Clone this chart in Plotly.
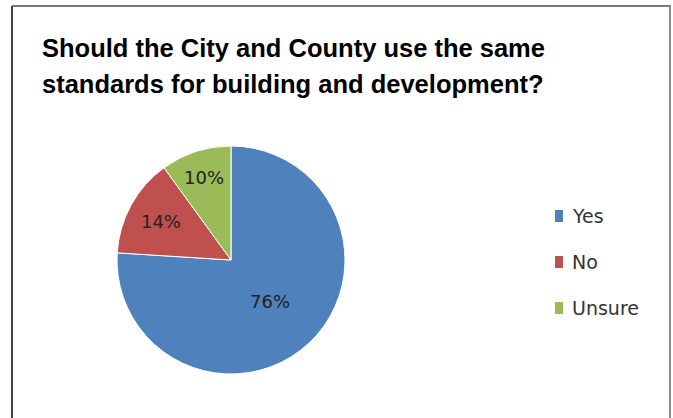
import plotly.graph_objects as go

labels = ["Yes", "No", "Unsure"]
values = [76, 14, 10]
colors = ["#4F81BD", "#C0504D", "#9BBB59"]
title_lines = ["Should the City and County use the same",
               "standards for building and development?"]

W, H = 673, 418

def px(x):
    return x / W

def py(y):
    return 1 - y / H

cx, cy, r = 231, 260, 114

fig = go.Figure()
fig.add_trace(go.Pie(
    labels=labels,
    values=values,
    marker=dict(colors=colors, line=dict(color="white", width=1)),
    sort=False,
    direction="clockwise",
    rotation=0,
    texttemplate="%{value}%",
    textposition="inside",
    insidetextorientation="horizontal",
    textfont=dict(family="DejaVu Sans", size=18, color="#222222"),
    domain=dict(x=[px(cx - r), px(cx + r)], y=[py(cy + r), py(cy - r)]),
    showlegend=False,
    hoverinfo="label+percent",
))

annotations = []
for i, line in enumerate(title_lines):
    annotations.append(dict(
        text=line, x=px(40), y=py(48 + 36 * i), xref="paper", yref="paper",
        xanchor="left", yanchor="middle", showarrow=False,
        font=dict(family="Liberation Sans", size=25.5, color="#000000", weight="bold"),
    ))

shapes = []
for i, (lab, col) in enumerate(zip(labels, colors)):
    yc = 216 + 46 * i
    shapes.append(dict(type="rect", xref="paper", yref="paper",
                       x0=px(555), x1=px(563), y0=py(yc + 6), y1=py(yc - 6),
                       fillcolor=col, line=dict(width=0)))
    annotations.append(dict(
        text=lab, x=px(570), y=py(yc), xref="paper", yref="paper",
        xanchor="left", yanchor="middle", showarrow=False,
        font=dict(family="DejaVu Sans", size=19, color="#333333"),
    ))

# chart border
shapes.append(dict(type="line", xref="paper", yref="paper",
                   x0=px(12), x1=px(671), y0=py(6), y1=py(6),
                   line=dict(color="#7a7a7a", width=2)))
shapes.append(dict(type="line", xref="paper", yref="paper",
                   x0=px(12), x1=px(12), y0=py(6), y1=py(418),
                   line=dict(color="#404040", width=2)))
shapes.append(dict(type="line", xref="paper", yref="paper",
                   x0=px(670), x1=px(670), y0=py(6), y1=py(418),
                   line=dict(color="#8c8c8c", width=2)))

fig.update_layout(
    width=W, height=H, autosize=False,
    margin=dict(l=0, r=0, t=0, b=0),
    paper_bgcolor="white", plot_bgcolor="white",
    annotations=annotations, shapes=shapes,
)

fig.write_html(
    "out.html",
    config={"displayModeBar": False},
    post_script="document.body.style.margin='0';document.body.style.overflow='hidden';",
)
